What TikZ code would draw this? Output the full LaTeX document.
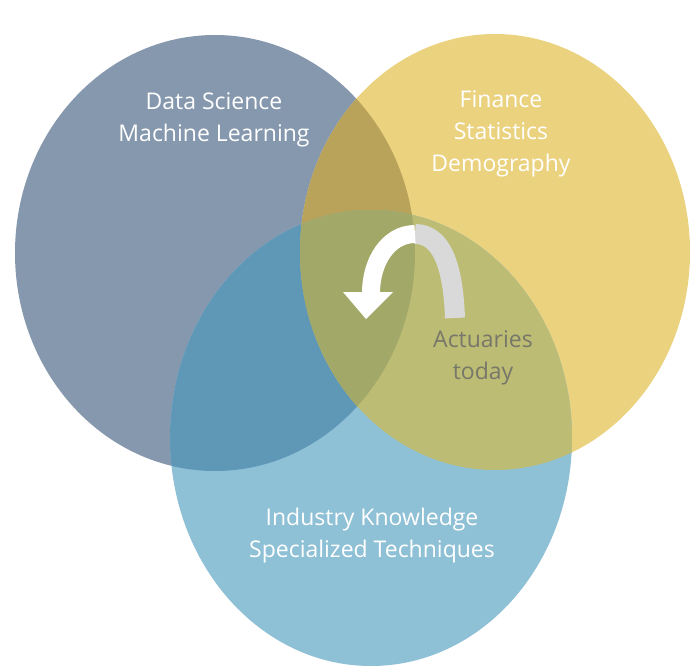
\documentclass[tikz,border=0pt]{standalone}
\usepackage{fontspec}
\setmainfont{Open Sans}
\newcommand\dsarea{(ds) ellipse [x radius=200, y radius=218]}
\newcommand\finarea{(fin) ellipse [x radius=195, y radius=218]}
\newcommand\indarea{(ind) ellipse [x radius=201, y radius=228]}
\definecolor{dscol}{HTML}{8698AE}
\definecolor{fincol}{HTML}{EBD27F}
\definecolor{indcol}{HTML}{8EC0D6}
\definecolor{dsfin}{HTML}{B9A35A}
\definecolor{dsind}{HTML}{5F97B7}
\definecolor{finind}{HTML}{BCBC74}
\definecolor{allthree}{HTML}{A2A868}
\definecolor{arrowgray}{HTML}{D9D9D9}
\definecolor{actgray}{HTML}{77776A}
\tikzset{area/.style={text=white,font=\fontsize{23}{32}\selectfont,align=center}}
\begin{document}
\begin{tikzpicture}[x=1pt,y=-1pt]
\useasboundingbox (0,0) rectangle (691,666);
\fill[white] (0,0) rectangle (691,666);
\coordinate (ds) at (215,253);
\coordinate (fin) at (495,252);
\coordinate (ind) at (371,438);

% the three circles
\fill[dscol] \dsarea;
\fill[fincol] \finarea;
\fill[indcol] \indarea;

% overlaps
\begin{scope}
  \clip \dsarea;
  \fill[dsfin] \finarea;
  \fill[dsind] \indarea;
\end{scope}
\begin{scope}
  \clip \finarea;
  \fill[finind] \indarea;
\end{scope}
\begin{scope}
  \clip \dsarea;
  \clip \finarea;
  \fill[allthree] \indarea;
\end{scope}

% turning arrow
\draw[line width=20, arrowgray] (455,318) .. controls (453,262) and (440,234) .. (415,234);
\draw[line width=18, white] (415,234) .. controls (388,234) and (371,262) .. (371,293);
\fill[white] (343,292) -- (393,292) -- (366,319) -- cycle;

\node[area] (dstext) at (214,120) {Data Science\\Machine Learning};
\node[area] (fintext) at (501,134) {Finance\\Statistics\\Demography};
\node[area] (indtext) at (372,536) {Industry Knowledge\\Specialized Techniques};
\node[area, text=actgray] (acttext) at (483,358) {Actuaries\\today};
\end{tikzpicture}
\end{document}
